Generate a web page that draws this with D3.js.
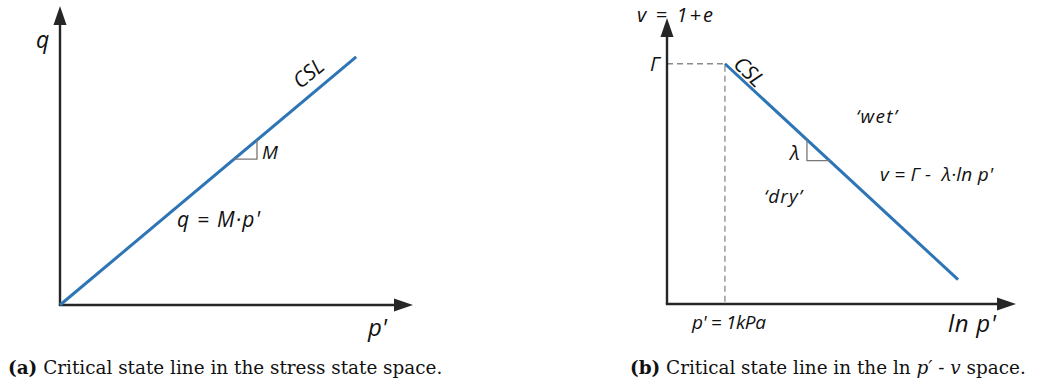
<!DOCTYPE html>
<html>
<head>
<meta charset="utf-8">
<script src="https://cdn.jsdelivr.net/npm/d3@7"></script>
<style>
  html, body { margin: 0; padding: 0; background: #fff; }
  svg { display: block; }
  .lbl { font-family: "Open Sans", Lato, sans-serif; font-style: italic; fill: #111; }
  .cap { font-family: "DejaVu Serif", "Liberation Serif", serif; fill: #111; }
</style>
</head>
<body>
<svg id="chart" width="1038" height="387"></svg>
<script>
// (a) q–p' space: CSL through the origin with slope M
const pA = [0, 8.39];            // p' extent of the CSL
const M = 0.989;                 // stress ratio at critical state
const axisA = [0, 10];           // axis domains (both axes)
const slopeA = [4.93, 5.58];     // p' span of the slope triangle

// (b) ln p' – v space: CSL v = Γ − λ·ln p'
const lnpB = [0, 6.68];          // ln p' extent of the CSL
const Gamma = 8.4;               // v at p' = 1 kPa
const lambda = 1.13;             // slope of the CSL
const axisBx = [-1.66, 8.34];
const axisBy = [0, 10];
const slopeB = [2.35, 3.0];      // ln p' span of the slope triangle

const blue = "#2e75b6";
const ink = "#262626";
const svg = d3.select("#chart");

function arrowAxes(g, x0, y0, xEnd, yEnd) {
  g.append("line").attr("x1", x0).attr("y1", y0).attr("x2", x0).attr("y2", yEnd + 16)
    .attr("stroke", ink).attr("stroke-width", 2.4);
  g.append("line").attr("x1", x0 - 1.2).attr("y1", y0).attr("x2", xEnd - 16).attr("y2", y0)
    .attr("stroke", ink).attr("stroke-width", 2.4);
  g.append("path").attr("d", `M${x0},${yEnd} L${x0 - 6.5},${yEnd + 19} L${x0 + 6.5},${yEnd + 19} Z`).attr("fill", ink);
  g.append("path").attr("d", `M${xEnd},${y0} L${xEnd - 19},${y0 - 6.5} L${xEnd - 19},${y0 + 6.5} Z`).attr("fill", ink);
}

function label(g, x, y, size, str, width) {
  const t = g.append("text").attr("class", "lbl").attr("x", x).attr("y", y)
    .attr("font-size", size).attr("xml:space", "preserve").text(str);
  if (width) t.attr("textLength", width).attr("lengthAdjust", "spacing");
  return t;
}

// ---------- panel (a) ----------
const xA = d3.scaleLinear().domain(axisA).range([60, 413]);
const yA = d3.scaleLinear().domain(axisA).range([305, 6]);
const gA = svg.append("g");
arrowAxes(gA, xA(0), yA(0), xA(axisA[1]), yA(axisA[1]));

const cslA = pA.map(p => [p, M * p]);
gA.append("path").datum(cslA)
  .attr("d", d3.line().x(d => xA(d[0])).y(d => yA(d[1])))
  .attr("stroke", blue).attr("stroke-width", 3).attr("fill", "none");

// slope triangle under the line
gA.append("path")
  .attr("d", `M${xA(slopeA[0])},${yA(M * slopeA[0])} L${xA(slopeA[1])},${yA(M * slopeA[0])} L${xA(slopeA[1])},${yA(M * slopeA[1])}`)
  .attr("stroke", "#777").attr("stroke-width", 1.3).attr("fill", "none");

label(gA, 262, 159, 19, "M");
label(gA, 177, 227, 21, "q = M·p'", 83);
label(gA, 36, 48, 23, "q");
label(gA, 368, 336, 24, "p'");
gA.append("text").attr("class", "lbl").attr("font-size", 21).attr("text-anchor", "middle")
  .attr("transform", `translate(313,79) rotate(-39)`).text("CSL");

// ---------- panel (b) ----------
const xB = d3.scaleLinear().domain(axisBx).range([667, 1016]);
const yB = d3.scaleLinear().domain(axisBy).range([304, 18]);
const gB = svg.append("g");

// reference dashes at p' = 1 kPa
gB.append("path")
  .attr("d", `M${xB(axisBx[0])},${yB(Gamma)} H${xB(0)} V${yB(0)}`)
  .attr("stroke", "#8a8a8a").attr("stroke-width", 1.3).attr("stroke-dasharray", "6,4").attr("fill", "none");

arrowAxes(gB, xB(axisBx[0]), yB(0), xB(axisBx[1]), yB(axisBy[1]));

const cslB = lnpB.map(l => [l, Gamma - lambda * l]);
gB.append("path").datum(cslB)
  .attr("d", d3.line().x(d => xB(d[0])).y(d => yB(d[1])))
  .attr("stroke", blue).attr("stroke-width", 3).attr("fill", "none");

gB.append("path")
  .attr("d", `M${xB(slopeB[0])},${yB(Gamma - lambda * slopeB[0])} L${xB(slopeB[0])},${yB(Gamma - lambda * slopeB[1])} L${xB(slopeB[1])},${yB(Gamma - lambda * slopeB[1])}`)
  .attr("stroke", "#777").attr("stroke-width", 1.3).attr("fill", "none");

label(gB, 790, 160, 20, "λ");
label(gB, 856, 123, 19, "‘wet’", 41);
label(gB, 764, 203, 19, "‘dry’", 38);
label(gB, 880, 181, 19, "v = Γ -  λ·ln p'", 113);
label(gB, 650, 71, 20, "Γ");
label(gB, 637, 21.5, 20, "v = 1+e", 76);
label(gB, 692, 329, 19, "p' = 1kPa", 74);
label(gB, 948, 332, 24, "ln p'", 48);
gB.append("text").attr("class", "lbl").attr("font-size", 21).attr("text-anchor", "middle")
  .attr("transform", `translate(744,77) rotate(44)`).text("CSL");

// ---------- captions ----------
const capA = svg.append("text").attr("class", "cap").attr("x", 8).attr("y", 374).attr("font-size", 18.4);
capA.append("tspan").attr("font-weight", "bold").text("(a)");
capA.append("tspan").text(" Critical state line in the stress state space.");

const capB = svg.append("text").attr("class", "cap").attr("x", 630).attr("y", 374).attr("font-size", 18.4);
capB.append("tspan").attr("font-weight", "bold").text("(b)");
capB.append("tspan").text(" Critical state line in the ln ");
capB.append("tspan").attr("font-style", "italic").text("p′");
capB.append("tspan").text(" - ");
capB.append("tspan").attr("font-style", "italic").text("v");
capB.append("tspan").text(" space.");
</script>
</body>
</html>
